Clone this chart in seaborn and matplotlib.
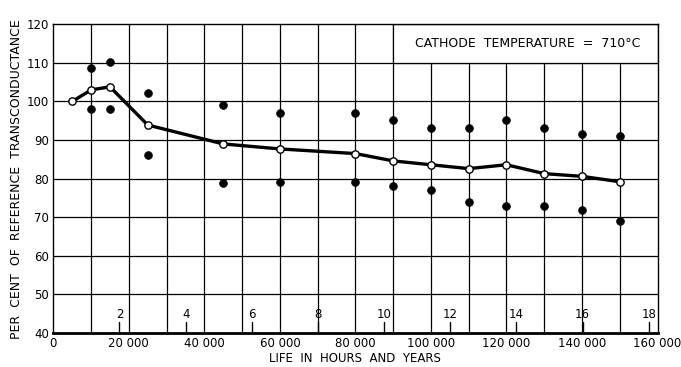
import matplotlib
matplotlib.use("Agg")
import matplotlib.pyplot as plt
import matplotlib.patches as mpatches
import seaborn as sns
import pandas as pd

# Life test of cathodes: mean transconductance and spread of individual tubes
hours = [5000, 10000, 15000, 25000, 45000, 60000, 80000, 90000, 100000,
         110000, 120000, 130000, 140000, 150000]
mean_pct = [100.0, 103.0, 103.8, 93.9, 89.0, 87.7, 86.5, 84.6, 83.6,
            82.6, 83.6, 81.3, 80.6, 79.2]

spread_hours = [10000, 15000, 25000, 45000, 60000, 80000, 90000, 100000,
                110000, 120000, 130000, 140000, 150000]
upper_pct = [108.7, 110.2, 102.1, 99.1, 97.1, 97.1, 95.2, 93.2, 93.2,
             95.2, 93.1, 91.5, 91.0]
lower_pct = [98.1, 98.1, 86.2, 79.0, 79.2, 79.2, 78.1, 77.1, 74.0,
             73.0, 73.0, 71.9, 69.1]

x_ticks = [0, 20000, 40000, 60000, 80000, 100000, 120000, 140000, 160000]
x_tick_labels = ["0", "20 000", "40 000", "60 000", "80 000", "100 000",
                 "120 000", "140 000", "160 000"]
y_ticks = [40, 50, 60, 70, 80, 90, 100, 110, 120]
years = [2, 4, 6, 8, 10, 12, 14, 16, 18]
HOURS_PER_YEAR = 8760

mean_df = pd.DataFrame({"hours": hours, "pct": mean_pct})
spread_df = pd.DataFrame({
    "hours": spread_hours + spread_hours,
    "pct": upper_pct + lower_pct,
})

sns.set_style("white")
plt.rcParams["font.family"] = ["DejaVu Sans"]
plt.rcParams["text.color"] = "black"
plt.rcParams["axes.labelcolor"] = "black"
plt.rcParams["xtick.color"] = "black"
plt.rcParams["ytick.color"] = "black"

fig = plt.figure(figsize=(6.81, 3.67), dpi=100)
ax = fig.add_axes([0.0783, 0.0926, 0.8872, 0.8412])

ax.set_xlim(0, 160000)
ax.set_ylim(40, 120)

# grid every 10 000 hours and every 10 per cent
for gx in range(10000, 160000, 10000):
    ax.axvline(gx, color="black", lw=0.9, zorder=1)
for gy in range(50, 120, 10):
    ax.axhline(gy, color="black", lw=0.9, zorder=1)

# legend box in the upper right corner, clear of grid lines
box = mpatches.Rectangle((90000, 110), 70000, 10, facecolor="white",
                         edgecolor="black", lw=0.9, zorder=2)
ax.add_patch(box)
ax.text(125500, 115, "CATHODE  TEMPERATURE  =  710°C", ha="center",
        va="center", fontsize=9, zorder=3)

sns.lineplot(data=mean_df, x="hours", y="pct", ax=ax, color="black",
             lw=2.4, zorder=4, legend=False)
sns.scatterplot(data=spread_df, x="hours", y="pct", ax=ax, color="black",
                s=32, edgecolor="black", zorder=5, legend=False)
sns.scatterplot(data=mean_df, x="hours", y="pct", ax=ax, color="white",
                s=28, edgecolor="black", linewidth=1.0, zorder=6,
                legend=False)

# years scale drawn along the inside of the bottom edge
for yr in years:
    h = yr * HOURS_PER_YEAR
    ax.plot([h, h], [40, 42.8], color="black", lw=1.0, zorder=3)
    ax.text(h, 43.2, str(yr), ha="center", va="bottom", fontsize=8.5)

ax.set_xticks(x_ticks)
ax.set_xticklabels(x_tick_labels)
ax.set_yticks(y_ticks)
ax.tick_params(axis="both", length=0, labelsize=8.5, pad=3)
ax.set_xlabel("LIFE  IN  HOURS  AND  YEARS", fontsize=8.5, labelpad=1)
ax.set_ylabel("PER  CENT  OF  REFERENCE  TRANSCONDUCTANCE", fontsize=9,
              labelpad=3)

for side in ["left", "right", "top"]:
    ax.spines[side].set_color("black")
    ax.spines[side].set_linewidth(1.0)
ax.spines["bottom"].set_color("black")
ax.spines["bottom"].set_linewidth(2.0)

fig.savefig("out.png", dpi=100, facecolor="white")
